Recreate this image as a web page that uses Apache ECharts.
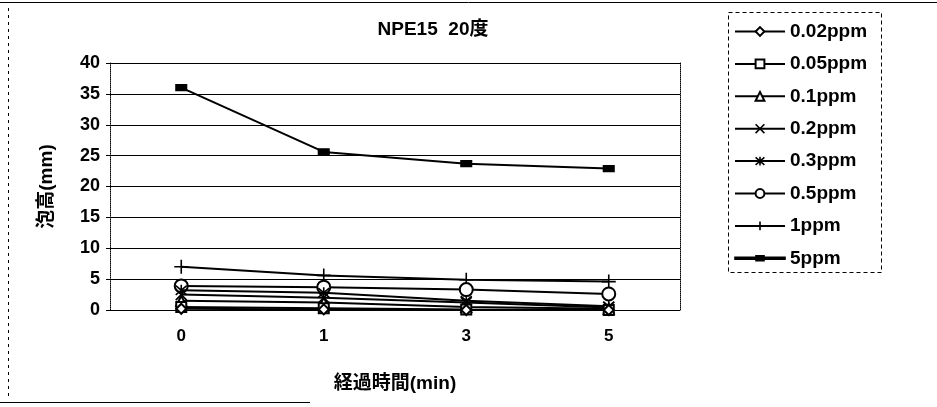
<!DOCTYPE html>
<html>
<head>
<meta charset="utf-8">
<script src="https://cdn.jsdelivr.net/npm/echarts@6/dist/echarts.min.js"></script>
<style>
  html, body { margin: 0; padding: 0; background: #fff; }
  #chart { width: 937px; height: 407px; }
</style>
</head>
<body>
<div id="chart"></div>
<script>
// Elapsed time categories (min)
const times = ['0', '1', '3', '5'];

// Foam height (mm) per concentration
const ppm002 = [0.2, 0.1, 0.0, 0.0];
const ppm005 = [0.5, 0.3, 0.1, 0.0];
const ppm01  = [1.5, 1.2, 0.5, 0.2];
const ppm02  = [2.5, 2.0, 1.2, 0.4];
const ppm03  = [3.2, 2.8, 1.5, 0.6];
const ppm05  = [3.9, 3.7, 3.3, 2.6];
const ppm1   = [7.0, 5.6, 4.9, 4.6];
const ppm5   = [36.0, 25.6, 23.7, 22.9];

const seriesNames = ['0.02ppm', '0.05ppm', '0.1ppm', '0.2ppm', '0.3ppm', '0.5ppm', '1ppm', '5ppm'];
const seriesData = [ppm002, ppm005, ppm01, ppm02, ppm03, ppm05, ppm1, ppm5];

const yTicks = { min: 0, max: 40, interval: 5 };

const FONT = '"Liberation Sans", Arial, "Noto Sans CJK JP", sans-serif';

const symbols = [
  { symbol: 'emptyDiamond', size: 10 },
  { symbol: 'emptyRect', size: 10 },
  { symbol: 'emptyTriangle', size: 10 },
  { symbol: 'path://M0,0L10,10M10,0L0,10', size: 11 },
  { symbol: 'path://M0,0L10,10M10,0L0,10M5,-1L5,11', size: 11 },
  { symbol: 'emptyCircle', size: 13 },
  { symbol: 'path://M5,0L5,10M0,5L10,5', size: 14 },
  { symbol: 'rect', size: [10, 6] }
];

const series = seriesNames.map((name, i) => ({
  name: name,
  type: 'line',
  data: seriesData[i],
  symbol: symbols[i].symbol,
  symbolSize: symbols[i].size,
  showAllSymbol: true,
  lineStyle: { color: '#000', width: 2 },
  itemStyle: { color: '#000', borderColor: '#000', borderWidth: 1.6 },
  emphasis: { disabled: true },
  z: 10 - i
}));

// Legend entries; the 5ppm key uses a line with a small flat block
const legendData = seriesNames.map(name => name === '5ppm'
  ? { name: name, icon: 'path://M0,4L50,4L50,6L0,6Z M21,2.5L29,2.5L29,7.5L21,7.5Z' }
  : { name: name });

const chart = echarts.init(document.getElementById('chart'), null, { renderer: 'canvas' });

chart.setOption({
  animation: false,
  backgroundColor: '#fff',
  title: {
    text: 'NPE15  20度',
    left: 428,
    top: 15,
    textAlign: 'center',
    textStyle: { fontFamily: FONT, fontSize: 19, fontWeight: 'bold', color: '#000' }
  },
  legend: {
    orient: 'vertical',
    left: 734,
    top: 22,
    padding: 0,
    itemWidth: 50,
    itemHeight: 11,
    itemGap: 13.4,
    data: legendData,
    textStyle: { fontFamily: FONT, fontSize: 19, fontWeight: 'bold', color: '#000' },
    itemStyle: { borderWidth: 1.6 },
    lineStyle: { width: 2 }
  },
  grid: { left: 110, right: 257, top: 63, bottom: 97 },
  xAxis: {
    type: 'category',
    data: times,
    boundaryGap: true,
    axisLine: { show: false },
    axisTick: { show: false },
    axisLabel: { margin: 18, fontFamily: FONT, fontSize: 17, fontWeight: 'bold', color: '#000' },
    name: '経過時間(min)',
    nameLocation: 'middle',
    nameGap: 64,
    nameTextStyle: { fontFamily: FONT, fontSize: 19, fontWeight: 'bold', color: '#000' }
  },
  yAxis: [{
    type: 'value',
    min: yTicks.min,
    max: yTicks.max,
    interval: yTicks.interval,
    axisLine: { show: true, lineStyle: { color: '#000', type: 'dotted', width: 1 } },
    axisTick: { show: true, length: 4, lineStyle: { color: '#000' } },
    axisLabel: { margin: 10, fontFamily: FONT, fontSize: 18, fontWeight: 'bold', color: '#000' },
    splitLine: { show: true, lineStyle: { color: '#000', width: 1 } },
    name: '泡高(mm)',
    nameLocation: 'middle',
    nameGap: 54,
    nameRotate: 90,
    nameTextStyle: { fontFamily: FONT, fontSize: 19, fontWeight: 'bold', color: '#000' }
  }, {
    type: 'value',
    position: 'right',
    min: yTicks.min,
    max: yTicks.max,
    interval: yTicks.interval,
    axisLine: { show: true, lineStyle: { color: '#000', type: 'dotted', width: 1 } },
    axisTick: { show: false },
    axisLabel: { show: false },
    splitLine: { show: false }
  }],
  graphic: [
    {
      type: 'rect',
      shape: { x: 728.5, y: 12.5, width: 153, height: 260 },
      style: { fill: 'none', stroke: '#000', lineWidth: 1, lineDash: [4, 3] },
      silent: true
    },
    {
      type: 'line',
      shape: { x1: 0, y1: 2.5, x2: 937, y2: 2.5 },
      style: { stroke: '#000', lineWidth: 1 },
      silent: true
    },
    {
      type: 'line',
      shape: { x1: 8.5, y1: 8, x2: 8.5, y2: 400 },
      style: { stroke: '#000', lineWidth: 1, lineDash: [3, 4] },
      silent: true
    },
    {
      type: 'line',
      shape: { x1: 0, y1: 402.5, x2: 310, y2: 402.5 },
      style: { stroke: '#000', lineWidth: 1 },
      silent: true
    }
  ],
  series: series
});
</script>
</body>
</html>
